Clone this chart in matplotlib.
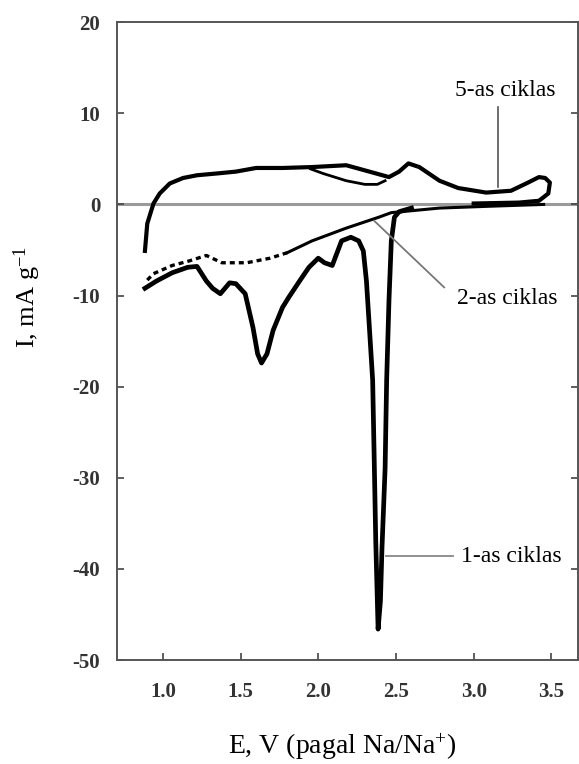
import matplotlib
matplotlib.use('Agg')
import matplotlib.pyplot as plt

plt.rcParams['font.family'] = ['Liberation Serif', 'DejaVu Serif']
plt.rcParams['mathtext.fontset'] = 'custom'
plt.rcParams['mathtext.rm'] = 'Liberation Serif'
plt.rcParams['mathtext.it'] = 'Liberation Serif:italic'

# 1-as ciklas (reduction sweep, solid thick)
e1 = [0.885, 0.96, 1.06, 1.16, 1.22, 1.28, 1.32, 1.37, 1.43, 1.47, 1.53, 1.58, 1.61, 1.635,
      1.67, 1.71, 1.77, 1.81, 1.88, 1.94, 2.0, 2.04, 2.09, 2.15, 2.21, 2.26, 2.29, 2.31, 2.33,
      2.35, 2.36, 2.37, 2.385, 2.40, 2.41, 2.43, 2.44, 2.455, 2.47, 2.49, 2.52, 2.6]
i1 = [-9.2, -8.4, -7.5, -6.9, -6.8, -8.4, -9.2, -9.8, -8.6, -8.7, -9.8, -13.5, -16.4, -17.4,
      -16.4, -13.8, -11.3, -10.2, -8.4, -6.9, -5.9, -6.4, -6.7, -4.0, -3.6, -4.0, -5.1, -8.4, -13.8,
      -19.3, -28.0, -37.0, -46.6, -43.5, -37.7, -29.0, -19.3, -10.5, -4.0, -1.4, -0.8, -0.4]

# 2-as ciklas: dotted low-potential part and solid rising part
e2_dot = [0.90, 0.94, 1.06, 1.17, 1.28, 1.38, 1.54, 1.69, 1.80]
i2_dot = [-8.3, -7.6, -6.7, -6.2, -5.6, -6.4, -6.4, -5.9, -5.3]
e2 = [1.80, 1.96, 2.18, 2.39, 2.47, 2.78, 3.1, 3.45]
i2 = [-5.3, -4.0, -2.6, -1.4, -0.9, -0.4, -0.2, 0.0]

# 5-as ciklas (oxidation loop)
e5 = [0.885, 0.90, 0.94, 0.98, 1.045, 1.13, 1.22, 1.35, 1.47, 1.60, 1.77, 1.96, 2.18, 2.35,
      2.455, 2.52, 2.58, 2.65, 2.78, 2.90, 3.08, 3.24, 3.35, 3.42, 3.46, 3.49, 3.48, 3.42, 3.29, 3.0]
i5 = [-5.1, -2.1, 0.1, 1.2, 2.3, 2.9, 3.2, 3.4, 3.6, 4.0, 4.0, 4.1, 4.3, 3.5,
      3.0, 3.6, 4.5, 4.1, 2.6, 1.8, 1.3, 1.5, 2.4, 3.0, 2.9, 2.4, 1.2, 0.4, 0.2, 0.1]

# inner branch of the loop
e_in = [1.95, 2.03, 2.18, 2.30, 2.38, 2.43]
i_in = [3.9, 3.4, 2.6, 2.2, 2.2, 2.6]

fig = plt.figure(figsize=(5.79, 7.64), dpi=100)
ax = fig.add_axes([0.202, 0.136, 0.796, 0.835])

ax.axhline(0, color='#9a9a9a', lw=2.2, zorder=1)
ax.plot(e1, i1, color='black', lw=3.4, solid_joinstyle='round')
ax.plot(e2_dot, i2_dot, color='black', lw=2.4, linestyle=(0, (1.5, 1.2)))
ax.plot(e2, i2, color='black', lw=2.2)
ax.plot(e5, i5, color='black', lw=3.0)
ax.plot(e_in, i_in, color='black', lw=2.0)

ax.set_xlim(0.705, 3.67)
ax.set_ylim(-50, 20)
ax.set_xticks([1.0, 1.5, 2.0, 2.5, 3.0, 3.5])
ax.set_xticklabels(['1.0', '1.5', '2.0', '2.5', '3.0', '3.5'])
ax.set_yticks([20, 10, 0, -10, -20, -30, -40, -50])
ax.set_yticklabels(['20', '10', '0', '-10', '-20', '-30', '-40', '-50'])
ax.tick_params(direction='in', length=5, width=1.2, color='#444444',
               left=True, right=True, bottom=True, top=False, labelsize=15)
ax.tick_params(axis='x', pad=16)
ax.tick_params(axis='y', pad=12)
for lab in ax.get_xticklabels() + ax.get_yticklabels():
    lab.set_fontweight('bold')
    lab.set_color('#333333')
for sp in ax.spines.values():
    sp.set_color('#555555')
    sp.set_linewidth(1.4)

ax.set_xlabel('E, V (pagal Na/Na$^{+}$)', fontsize=20)
ax.set_ylabel('I, mA g$^{-1}$', fontsize=19)
ax.xaxis.set_label_coords(0.488, -0.113)
ax.yaxis.set_label_coords(-0.16, 0.569)

# cycle labels with pointer lines
ax.plot([3.155, 3.155], [1.9, 10.7], color='#555555', lw=1.2)
ax.text(3.20, 12.5, '5-as ciklas', fontsize=17, ha='center', va='center')
ax.plot([2.36, 2.81], [-1.8, -9.1], color='#777777', lw=1.3)
ax.text(2.89, -10.3, '2-as ciklas', fontsize=17, ha='left', va='center')
ax.plot([2.435, 2.87], [-38.6, -38.6], color='#888888', lw=1.3)
ax.text(2.92, -38.6, '1-as ciklas', fontsize=17, ha='left', va='center')

fig.savefig('out.png', dpi=100)
